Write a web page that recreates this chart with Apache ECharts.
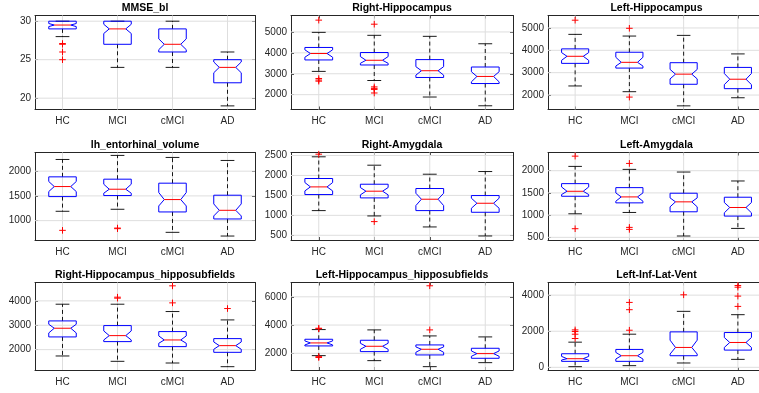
<!DOCTYPE html>
<html><head><meta charset="utf-8">
<script src="https://cdn.jsdelivr.net/npm/echarts@6/dist/echarts.min.js"></script>
<style>html,body{margin:0;padding:0;background:#fff}#c{width:759px;height:393px}</style>
</head><body><div id="c"></div>
<script>
const categories = ['HC', 'MCI', 'cMCI', 'AD'];
const panelTitles = ['MMSE_bl', 'Right-Hippocampus', 'Left-Hippocampus',
  'lh_entorhinal_volume', 'Right-Amygdala', 'Left-Amygdala',
  'Right-Hippocampus_hipposubfields', 'Left-Hippocampus_hipposubfields', 'Left-Inf-Lat-Vent'];

// box stats per category: [lowerWhisker, q1, notchLow, median, notchHigh, q3, upperWhisker]
const mmseBox = [[28, 29, 29.3, 29.5, 29.7, 30, 30], [24, 27, 28.4, 29, 29.6, 30, 30], [24, 26, 26.3, 27, 27.7, 29, 30], [19, 22, 23.3, 24, 24.7, 25, 26]];
const mmseOut = [[0, 27], [0, 27.1], [0, 26], [0, 25]];
const rHippoBox = [[3113, 3661, 3790, 3968, 4145, 4258, 4980], [2677, 3419, 3500, 3645, 3823, 4016, 4839], [1887, 2822, 2935, 3145, 3339, 3677, 4790], [1468, 2532, 2613, 2871, 3097, 3323, 4435]];
const rHippoOut = [[0, 5565], [0, 2774], [0, 2700], [0, 2645], [1, 5371], [1, 2371], [1, 2300], [1, 2250], [1, 2080]];
const lHippoBox = [[2406, 3416, 3552, 3733, 3899, 4065, 4713], [2149, 3205, 3296, 3462, 3688, 3914, 4638], [1516, 2481, 2722, 2934, 3145, 3446, 4668], [1878, 2285, 2466, 2707, 2964, 3235, 3839]];
const lHippoOut = [[0, 5347], [1, 4985], [1, 1908]];
const entoBox = [[1189, 1486, 1588, 1689, 1791, 1885, 2236], [1230, 1507, 1554, 1635, 1736, 1838, 2318], [764, 1176, 1297, 1426, 1568, 1757, 2277], [689, 1034, 1095, 1209, 1338, 1514, 2216]];
const entoOut = [[0, 804], [1, 838], [1, 850]];
const rAmyBox = [[1119, 1521, 1613, 1713, 1822, 1923, 2467], [985, 1437, 1513, 1605, 1697, 1780, 2257], [709, 1119, 1245, 1404, 1554, 1672, 2031], [483, 1077, 1178, 1303, 1429, 1496, 2098]];
const rAmyOut = [[0, 2533], [1, 843]];
const lAmyBox = [[1030, 1425, 1463, 1537, 1634, 1709, 2097], [1060, 1276, 1313, 1410, 1500, 1619, 2030], [530, 1075, 1187, 1299, 1388, 1493, 1970], [701, 978, 1052, 1172, 1284, 1403, 1769]];
const lAmyOut = [[0, 2328], [0, 694], [1, 2164], [1, 724], [1, 679]];
const rSubBox = [[1740, 2521, 2685, 2877, 3041, 3178, 3863], [1521, 2329, 2397, 2575, 2767, 2986, 3863], [1452, 2123, 2260, 2397, 2562, 2740, 3562], [1301, 1890, 2014, 2164, 2315, 2452, 3219]];
const rSubOut = [[1, 4151], [1, 4110], [2, 4616], [2, 3918], [3, 3685]];
const lSubBox = [[1834, 2521, 2592, 2734, 2876, 2994, 3680], [1479, 2118, 2284, 2497, 2710, 2923, 3657], [1053, 1882, 2071, 2284, 2450, 2592, 3231], [1337, 1645, 1787, 1976, 2166, 2355, 3160]];
const lSubOut = [[0, 3775], [0, 3740], [0, 1763], [0, 1700], [2, 6781], [2, 3657]];
const ventBox = [[37, 330, 404, 477, 606, 752, 1394], [92, 330, 459, 642, 826, 991, 1835], [239, 642, 734, 1101, 1505, 1963, 3101], [440, 954, 1101, 1376, 1651, 1927, 2917]];
const ventOut = [[0, 2073], [0, 1982], [0, 1835], [0, 1596], [1, 3596], [1, 3193], [1, 2055], [2, 4018], [3, 4532], [3, 4440], [3, 3945], [3, 3376]];

const yLimits = [[18.53, 30.74], [1290, 5787], [1353, 5557], [609, 2377], [382, 2575], [440, 2410], [1165, 4753], [816, 7014], [-149, 4700]];
const yTicks = [[20, 25, 30], [2000, 3000, 4000, 5000], [2000, 3000, 4000, 5000], [1000, 1500, 2000], [500, 1000, 1500, 2000, 2500], [500, 1000, 1500, 2000], [2000, 3000, 4000], [2000, 4000, 6000], [0, 2000, 4000]];

const boxes = [mmseBox, rHippoBox, lHippoBox, entoBox, rAmyBox, lAmyBox, rSubBox, lSubBox, ventBox];
const outliers = [mmseOut, rHippoOut, lHippoOut, entoOut, rAmyOut, lAmyOut, rSubOut, lSubOut, ventOut];

const colPos = [[35, 220], [291, 222], [548, 217]];
const rowPos = [[15.5, 94], [152.5, 87.5], [282.5, 87.5]];
const FONT = 'Liberation Sans, Arial, Helvetica, sans-serif';
const AX = '#262626';
const catX = [1, 2, 3, 4];

const chart = echarts.init(document.getElementById('c'), null, {renderer: 'canvas'});
const grid = [], xAxis = [], yAxis = [], series = [];

for (let i = 0; i < 9; i++) {
  const c = colPos[i % 3], r = rowPos[Math.floor(i / 3)];
  grid.push({left: c[0], top: r[0], width: c[1], height: r[1], containLabel: false, outerBoundsMode: 'none'});
  const baseX = {
    gridIndex: i, type: 'value', min: 0.5, max: 4.5,
    axisLine: {show: true, onZero: false, lineStyle: {color: AX, width: 1}},
    axisTick: {show: true, inside: true, length: 3, customValues: catX, lineStyle: {color: AX}},
    splitLine: {show: false}
  };
  xAxis.push(Object.assign({}, baseX, {
    position: 'bottom',
    axisLabel: {show: true, customValues: catX, formatter: v => categories[Math.round(v) - 1] || '',
      color: AX, fontSize: 10, margin: 7, fontFamily: FONT}
  }));
  xAxis.push(Object.assign({}, baseX, {
    position: 'top', axisLabel: {show: false},
    name: panelTitles[i], nameLocation: 'middle', nameGap: 2,
    nameTextStyle: {fontWeight: 'bold', fontSize: 10.5, color: '#000', fontFamily: FONT, verticalAlign: 'bottom'}
  }));
  const baseY = {
    gridIndex: i, type: 'value', min: yLimits[i][0], max: yLimits[i][1],
    axisLine: {show: true, onZero: false, lineStyle: {color: AX, width: 1}},
    axisTick: {show: true, inside: true, length: 3, customValues: yTicks[i], lineStyle: {color: AX}},
    splitLine: {show: false}
  };
  yAxis.push(Object.assign({}, baseY, {
    position: 'left',
    axisLabel: {show: true, customValues: yTicks[i], color: AX, fontSize: 10, margin: 4, fontFamily: FONT,
      formatter: v => String(v)}
  }));
  yAxis.push(Object.assign({}, baseY, {position: 'right', axisLabel: {show: false}}));

  // grid lines
  const ticks = yTicks[i];
  series.push({
    type: 'custom', xAxisIndex: 2 * i, yAxisIndex: 2 * i, z: 1, silent: true,
    data: [[1, ticks[0]]],
    renderItem: function (params, api) {
      const ch = [];
      const lim = yLimits[i];
      ticks.forEach(t => {
        const a = api.coord([0.5, t]), b = api.coord([4.5, t]);
        ch.push({type: 'line', shape: {x1: a[0], y1: a[1], x2: b[0], y2: b[1]},
          style: {stroke: '#dedede', lineWidth: 1}});
      });
      catX.forEach(x => {
        const a = api.coord([x, lim[0]]), b = api.coord([x, lim[1]]);
        ch.push({type: 'line', shape: {x1: a[0], y1: a[1], x2: b[0], y2: b[1]},
          style: {stroke: '#dedede', lineWidth: 1}});
      });
      return {type: 'group', children: ch};
    }
  });

  // boxes
  series.push({
    type: 'custom', xAxisIndex: 2 * i, yAxisIndex: 2 * i, z: 3, silent: true,
    data: boxes[i].map((s, k) => [k + 1].concat(s)),
    renderItem: function (params, api) {
      const x = api.value(0);
      const s = [1, 2, 3, 4, 5, 6, 7].map(k => api.value(k));
      const w = 0.5, h = w / 2, nIn = w * 0.2, cap = w / 4;
      const P = (dx, v) => api.coord([x + dx, v]);
      const wlo = s[0], q1 = s[1], nlo = s[2], med = s[3], nhi = s[4], q3 = s[5], whi = s[6];
      const dash = {stroke: '#000', lineWidth: 0.9, lineDash: [4, 3]};
      const solid = {stroke: '#000', lineWidth: 0.9};
      const L = (a, b, st) => ({type: 'line', shape: {x1: a[0], y1: a[1], x2: b[0], y2: b[1]}, style: st});
      const pts = [P(-h, q3), P(h, q3), P(h, nhi), P(h - nIn, med), P(h, nlo), P(h, q1),
        P(-h, q1), P(-h, nlo), P(-h + nIn, med), P(-h, nhi)];
      return {type: 'group', children: [
        L(P(0, q3), P(0, whi), dash),
        L(P(0, q1), P(0, wlo), dash),
        L(P(-cap, whi), P(cap, whi), solid),
        L(P(-cap, wlo), P(cap, wlo), solid),
        {type: 'polygon', shape: {points: pts}, style: {fill: 'none', stroke: '#0000ff', lineWidth: 1}},
        L(P(-h + nIn, med), P(h - nIn, med), {stroke: '#ff0000', lineWidth: 1})
      ]};
    }
  });

  // outliers
  series.push({
    type: 'custom', xAxisIndex: 2 * i, yAxisIndex: 2 * i, z: 4, silent: true,
    data: outliers[i].map(o => [o[0] + 1, o[1]]),
    renderItem: function (params, api) {
      const p = api.coord([api.value(0), api.value(1)]);
      const r = 3.3;
      return {type: 'group', children: [
        {type: 'line', shape: {x1: p[0] - r, y1: p[1], x2: p[0] + r, y2: p[1]}, style: {stroke: '#ff0000', lineWidth: 1}},
        {type: 'line', shape: {x1: p[0], y1: p[1] - r, x2: p[0], y2: p[1] + r}, style: {stroke: '#ff0000', lineWidth: 1}}
      ]};
    }
  });
}

chart.setOption({animation: false, backgroundColor: '#fff', grid, xAxis, yAxis, series});
</script></body></html>
